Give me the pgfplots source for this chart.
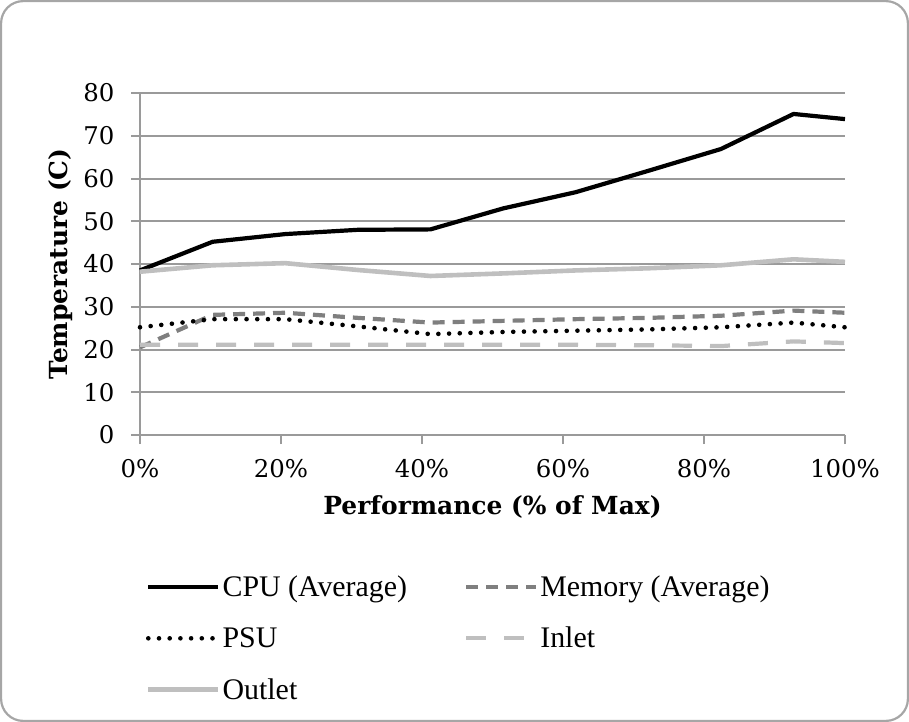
\documentclass[border=0pt]{standalone}
\usepackage{pgfplots}
\pgfplotsset{compat=1.18}
\usepackage{fontspec}
\setmainfont{DejaVu Serif}
\newfontfamily\legfont{Liberation Serif}
\definecolor{bordergray}{HTML}{A6A6A6}
\definecolor{gridgray}{HTML}{9A9A9A}
\definecolor{memgray}{HTML}{7F7F7F}
\definecolor{lightgray2}{HTML}{BFBFBF}
\begin{document}
\begin{tikzpicture}
\draw[color=bordergray, line width=2.2bp, rounded corners=22bp] (1.1bp,-1.1bp) rectangle (907.9bp,-720.9bp);
\begin{axis}[
  at={(140bp,-435bp)}, anchor=south west,
  scale only axis, width=705bp, height=342bp,
  xmin=0, xmax=100, ymin=0, ymax=80,
  xtick={0,20,40,60,80,100}, ytick={0,10,...,80},
  xticklabel={\pgfmathprintnumber{\tick}\%},
  /pgf/number format/assume math mode=true,
  tick label style={font=\fontsize{24.5}{28}\selectfont},
  yticklabel style={xshift=-13bp},
  xticklabel style={yshift=-12bp},
  axis lines*=left,
  axis line style={color=gridgray, line width=2bp},
  tick style={color=gridgray, line width=2bp},
  tick align=outside, major tick length=9bp,
  ymajorgrids, grid style={color=gridgray, line width=2bp},
  xlabel={\textbf{Performance (\% of Max)}},
  ylabel={\textbf{Temperature (C)}},
  label style={font=\fontsize{25}{29}\selectfont},
  xlabel style={at={(axis description cs:0.5,-0.21)}, anchor=center},
  ylabel style={at={(axis description cs:-0.113,0.5)}, anchor=center, rotate=0},
  clip=false,
  legend style={at={(0.004,-0.40)}, anchor=north west, draw=none, fill=none,
    font=\legfont\fontsize{30}{34}\selectfont, row sep=25bp,
    /tikz/every even column/.append style={column sep=55bp}},
  legend columns=2,
  legend cell align=left,
  legend image code/.code={\draw[#1] (0bp,0bp) -- (70bp,0bp);},
]
\addplot[black, line width=4.2bp] coordinates {
 (0,38.5) (10.3,45.2) (20.6,47) (30.9,48) (41.2,48.1) (51.5,53) (61.8,56.8) (72.1,61.8) (82.4,66.9) (92.7,75.1) (100,73.9)};
\addlegendentry{CPU (Average)}
\addplot[memgray, line width=4.2bp, dash pattern=on 12bp off 8bp] coordinates {
 (0,20.5) (10.3,28.1) (20.6,28.6) (30.9,27.4) (41.2,26.3) (51.5,26.7) (61.8,27.1) (72.1,27.4) (82.4,27.9) (92.7,29.1) (100,28.6)};
\addlegendentry{Memory (Average)}
\addplot[black, line width=4.6bp, line cap=round, dash pattern=on 0bp off 10.7bp] coordinates {
 (0,25.2) (10.3,27.1) (20.6,27.1) (30.9,25.4) (41.2,23.6) (51.5,24.1) (61.8,24.4) (72.1,24.7) (82.4,25.2) (92.7,26.3) (100,25.2)};
\addlegendentry{PSU}
\addplot[lightgray2, line width=4.2bp, dash pattern=on 20bp off 18bp] coordinates {
 (0,21.1) (10.3,21.1) (20.6,21.1) (30.9,21.1) (41.2,21.1) (51.5,21.1) (61.8,21.1) (72.1,21.0) (82.4,20.8) (92.7,21.9) (100,21.5)};
\addlegendentry{Inlet}
\addplot[lightgray2, line width=4.6bp] coordinates {
 (0,38.2) (10.3,39.7) (20.6,40.2) (30.9,38.6) (41.2,37.2) (51.5,37.8) (61.8,38.5) (72.1,39.0) (82.4,39.7) (92.7,41.1) (100,40.5)};
\addlegendentry{Outlet}
\end{axis}
\end{tikzpicture}
\end{document}
